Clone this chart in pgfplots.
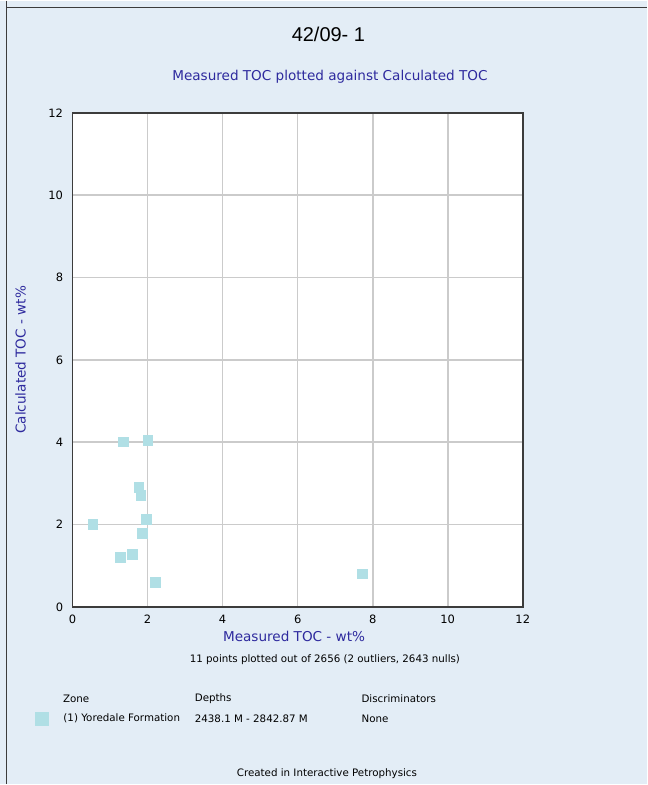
\documentclass[border=0pt]{standalone}
\usepackage{pgfplots}
\pgfplotsset{compat=1.18}
\usepackage{fontspec}
\setmainfont{DejaVu Sans}
\newfontfamily\titlefont{Liberation Sans}

\definecolor{panelbg}{HTML}{E3EDF6}
\definecolor{ptcol}{HTML}{B0DFE5}
\definecolor{labblue}{HTML}{2E2A9E}
\definecolor{gridgray}{HTML}{CBCBCB}
\definecolor{framegray}{HTML}{3C3C3C}

\begin{document}
\begin{tikzpicture}[x=1pt,y=1pt]
% panel
\fill[panelbg] (0,0) rectangle (648,785);
\draw[framegray, line width=1.4pt] (6.5,785) -- (6.5,0);
\draw[framegray, line width=1.4pt] (6.5,778) -- (648,778);

% titles
\node[font=\titlefont\fontsize{20}{24}\selectfont] at (329,751) {42/09- 1};
\node[font=\fontsize{13.6}{16}\selectfont, text=labblue] at (330.5,708.5) {Measured TOC plotted against Calculated TOC};

\begin{axis}[
  scale only axis,
  width=451pt, height=495pt,
  at={(72.7pt,177.7pt)}, anchor=south west,
  xmin=0, xmax=12, ymin=0, ymax=12,
  xtick={0,2,...,12}, ytick={0,2,...,12},
  grid=major,
  major grid style={gridgray, line width=1.6pt},
  axis line style={framegray, line width=1.5pt},
  major tick length=0pt,
  axis background/.style={fill=white},
  tick label style={font=\fontsize{11.5}{13}\selectfont},
  /pgf/number format/assume math mode=true,
  xticklabel style={anchor=center, yshift=-12.7pt},
  yticklabel style={anchor=east, xshift=-6pt},
  xlabel={Measured TOC - wt\%},
  ylabel={Calculated TOC - wt\%},
  label style={text=labblue, font=\fontsize{13.6}{16}\selectfont},
  xlabel style={at={(axis description cs:0.492,-0.0606)}, anchor=center},
  ylabel style={at={(axis description cs:-0.1153,0.5)}, anchor=center},
  legend style={at={(axis description cs:-0.0847,-0.2257)}, anchor=west,
    draw=none, fill=none, inner sep=0pt, font=\fontsize{10.3}{12}\selectfont,
    nodes={inner sep=0pt},
    /tikz/every odd column/.append style={column sep=15.5pt}},
  clip=false,
]
\addplot[only marks, ptcol, mark=square*, mark size=4.8pt,
  mark options={fill=ptcol, draw=ptcol, line width=0pt},
  legend image code/.code={\fill[ptcol] (0pt,-6.5pt) rectangle (13pt,6.5pt);}]
  coordinates {
  (1.35,4.00) (2.01,4.04) (1.77,2.90) (1.82,2.70) (1.97,2.13) (0.54,2.00)
  (1.86,1.78) (1.28,1.20) (1.59,1.27) (2.21,0.59) (7.73,0.80)
  };
\addlegendentry{(1) Yoredale Formation}
\end{axis}

% notes below the plot
\begin{scope}[font=\fontsize{10.3}{12}\selectfont]
\node at (325.5,125) {11 points plotted out of 2656 (2 outliers, 2643 nulls)};
\node[anchor=west, inner sep=0pt] at (63,86) {Zone};
\node[anchor=west, inner sep=0pt] at (195,86) {Depths};
\node[anchor=west, inner sep=0pt] at (362,86) {Discriminators};
\node[anchor=west, inner sep=0pt] at (195,66) {2438.1 M - 2842.87 M};
\node[anchor=west, inner sep=0pt] at (362,66) {None};
\node at (327.5,11) {Created in Interactive Petrophysics};
\end{scope}
\end{tikzpicture}
\end{document}
